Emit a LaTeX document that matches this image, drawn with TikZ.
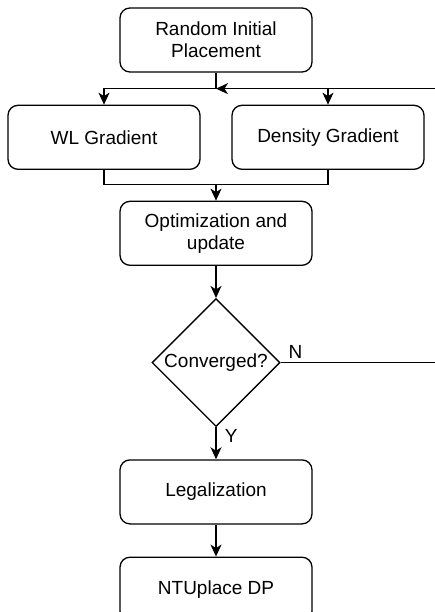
\documentclass[tikz,border=0pt]{standalone}
\usepackage{fontspec}
\setmainfont{Liberation Sans}
\usetikzlibrary{shapes.geometric,arrows.meta,calc,positioning}

\begin{document}
\begin{tikzpicture}[x=1pt,y=1pt,line width=1.3pt,
  >={Stealth[length=12pt,width=11pt,inset=3.5pt]},
  box/.style={draw, rounded corners=10pt, minimum width=192pt, minimum height=64pt,
    align=center, font=\fontsize{19}{22}\selectfont},
  decision/.style={draw, diamond, minimum width=128pt, minimum height=128pt, inner sep=0pt,
    font=\fontsize{19}{22}\selectfont},
  tag/.style={font=\fontsize{19}{22}\selectfont}]
  \useasboundingbox (0,0) rectangle (435,-612);

  \node[box] (init) at (216,-40) {Random Initial\\Placement};
  \node[box, below = 32pt of init, xshift=-112pt] (wl) {WL Gradient};
  \node[box, below = 32pt of init, xshift=112pt] (dens) {Density Gradient};
  \node[box, below = 128pt of init] (opt) {Optimization and\\update};
  \node[decision, below = 32pt of opt] (conv) {Converged?};
  \node[box, below = 32pt of conv] (legal) {Legalization};
  \node[box, below = 32pt of legal] (dp) {NTUplace DP};

  \coordinate (split) at ($(init.south)+(0,-16)$);
  \coordinate (merge) at ($(opt.north)+(0,16)$);
  \coordinate (loop) at (436,0 |- conv.east);

  % fan out to both gradients
  \draw (init.south) -- (split);
  \draw[->] (split) -| (wl.north);
  \draw[->] (split) -| (dens.north);

  % join gradients into the update step
  \draw (wl.south) |- (merge) -| (dens.south);
  \draw[->] (merge) -- (opt.north);
  \draw[->] (opt) -- (conv);

  % not converged: go round again
  \draw[->] (conv.east) -- (loop) |- (split);
  \node[tag, above right = 0pt and 4pt of conv.east] (nlab) {N};

  \draw[->] (conv.south) -- (legal.north);
  \node[tag, below right = -2pt and 5pt of conv.south] (ylab) {Y};
  \draw[->] (legal) -- (dp);

\end{tikzpicture}
\end{document}
